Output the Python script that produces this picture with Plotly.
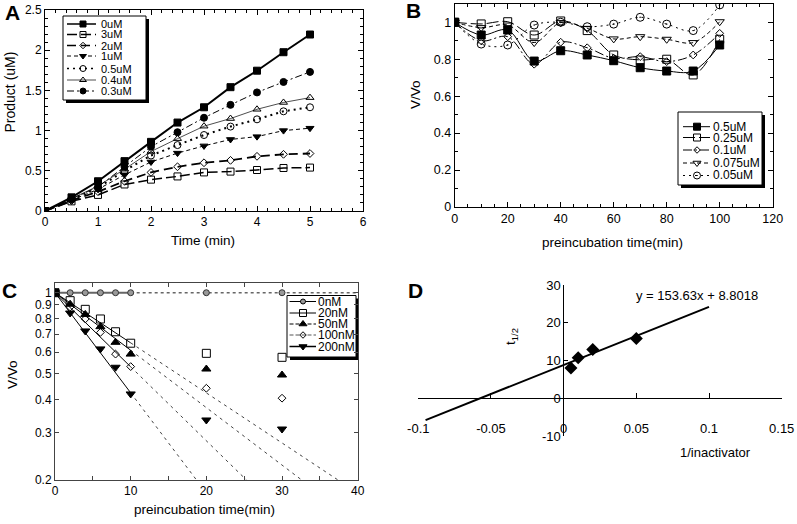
import math
import plotly.graph_objects as go

W, H = 797, 524
FONT = "Arial, Liberation Sans, sans-serif"

# ---------------- Panel A data ----------------
a_time = [0, 0.5, 1, 1.5, 2, 2.5, 3, 3.5, 4, 4.5, 5]
a_names = ["0uM", "3uM", "2uM", "1uM", "0.5uM", "0.4uM", "0.3uM"]
a_0uM = [0, 0.17, 0.37, 0.62, 0.86, 1.10, 1.29, 1.54, 1.745, 1.975, 2.195]
a_3uM = [0, 0.12, 0.20, 0.33, 0.39, 0.43, 0.48, 0.49, 0.51, 0.535, 0.54]
a_2uM = [0, 0.13, 0.24, 0.37, 0.48, 0.55, 0.60, 0.63, 0.68, 0.705, 0.715]
a_1uM = [0, 0.14, 0.27, 0.45, 0.61, 0.72, 0.81, 0.89, 0.925, 1.00, 1.03]
a_05uM = [0, 0.14, 0.29, 0.50, 0.69, 0.82, 0.945, 1.05, 1.14, 1.24, 1.29]
a_04uM = [0, 0.15, 0.31, 0.52, 0.74, 0.90, 1.055, 1.15, 1.265, 1.35, 1.41]
a_03uM = [0, 0.15, 0.30, 0.55, 0.80, 0.98, 1.16, 1.32, 1.475, 1.605, 1.73]
a_xticks = [0, 1, 2, 3, 4, 5, 6]
a_yticks = [0, 0.5, 1, 1.5, 2, 2.5]

# ---------------- Panel B data ----------------
b_time = [0, 10, 20, 30, 40, 50, 60, 70, 80, 90, 100]
b_names = ["0.5uM", "0.25uM", "0.1uM", "0.075uM", "0.05uM"]
b_05uM = [1.0, 0.931, 0.958, 0.79, 0.846, 0.823, 0.792, 0.754, 0.736, 0.736, 0.877]
b_025uM = [1.0, 0.991, 1.003, 0.931, 1.007, 0.955, 0.823, 0.796, 0.80, 0.715, 0.908]
b_01uM = [1.0, 0.90, 0.922, 0.773, 0.892, 0.862, 0.805, 0.814, 0.787, 0.823, 0.94]
b_0075uM = [1.0, 0.971, 0.985, 0.89, 0.998, 0.967, 0.91, 0.922, 0.908, 0.89, 1.003]
b_005uM = [1.0, 0.882, 0.877, 0.985, 1.0, 0.976, 0.99, 1.027, 0.99, 0.955, 1.094]

# ---------------- Panel C data ----------------
c_time = [0, 2, 4, 6, 8, 10, 20, 30]
c_names = ["0nM", "20nM", "50nM", "100nM", "200nM"]
c_0nM = [1, 1, 1, 1, 1, 1, 1, 1]
c_20nM = [1, 0.934, 0.867, 0.798, 0.715, 0.648, 0.594, 0.574]
c_50nM = [1, 0.906, 0.83, 0.747, 0.653, 0.59, 0.519, 0.493]
c_100nM = [1, 0.885, 0.798, 0.711, 0.59, 0.53, 0.44, 0.404]
c_200nM = [1, 0.84, 0.72, 0.617, 0.527, 0.419, 0.335, 0.31]
# fitted lines: value at t=10 and time where extension reaches 0.2
c_fit_t10 = [0.65, 0.61, 0.529, 0.423]
c_fit_end_t = [37.4, 32.6, 25.3, 18.7]
c_fit_end_v = 0.2
c_yticks = [0.2, 0.3, 0.4, 0.5, 0.6, 0.7, 0.8, 0.9, 1]
c_yticktext = ["0.2", "0.3", "0.4", "0.5", "0.6", "0.7", "0.8", "0.9", "1"]

# ---------------- Panel D data ----------------
d_inv = [0.005, 0.01, 0.02, 0.05]
d_thalf = [8.0, 10.7, 12.9, 15.8]
d_fit_x = [-0.095, 0.1]
d_fit_y = [-5.8, 24.2]
d_equation = "y = 153.63x + 8.8018"
d_xticks = [-0.1, -0.05, 0, 0.05, 0.1, 0.15]
d_xticktext = ["-0.1", "-0.05", "0", "0.05", "0.1", "0.15"]
d_yticks = [-10, 0, 10, 20, 30]
d_yticktext = ["-10", "0", "10", "20", "30"]

fig = go.Figure()


def px_x(x):
    return x / W


def px_y(y):
    return 1 - y / H


# ---------- Panel A traces ----------
a_series = [a_0uM, a_3uM, a_2uM, a_1uM, a_05uM, a_04uM, a_03uM]
a_style = [
    dict(dash="solid", width=2, symbol="square", size=7),
    dict(dash="10px,4px", width=1.5, symbol="square-open", size=7),
    dict(dash="9px,5px", width=1.8, symbol="diamond-open", size=6),
    dict(dash="4px,3px", width=1, symbol="triangle-down", size=7),
    dict(dash="2px,4px", width=2, symbol="circle-open", size=7),
    dict(dash="solid", width=0.7, symbol="triangle-up-open", size=7),
    dict(dash="7px,3px,2px,3px", width=1, symbol="circle", size=7),
]
for name, ys, st in zip(a_names, a_series, a_style):
    fig.add_trace(go.Scatter(
        x=a_time, y=ys, name=name, mode="lines+markers", showlegend=False,
        line=dict(color="black", width=st["width"], dash=st["dash"]),
        marker=dict(symbol=st["symbol"], size=st["size"], color="black",
                    line=dict(color="black", width=1)),
        xaxis="x", yaxis="y"))

# ---------- Panel B traces ----------
b_series = [b_05uM, b_025uM, b_01uM, b_0075uM, b_005uM]
b_style = [
    dict(dash="solid", width=1, symbol="square", size=8),
    dict(dash="12px,4px", width=1, symbol="square-open", size=8),
    dict(dash="9px,3px,2px,3px", width=1, symbol="diamond-open", size=6),
    dict(dash="4px,3px", width=1, symbol="triangle-down-open", size=8),
    dict(dash="2px,4px", width=1, symbol="circle-open-dot", size=8),
]
for name, ys, st in zip(b_names, b_series, b_style):
    fig.add_trace(go.Scatter(
        x=b_time, y=ys, name=name, mode="lines+markers", showlegend=False,
        line=dict(color="black", width=st["width"], dash=st["dash"], shape="spline", smoothing=1.0),
        marker=dict(symbol=st["symbol"], size=st["size"], color="black",
                    line=dict(color="black", width=1)),
        xaxis="x2", yaxis="y2"))

# ---------- Panel C traces ----------
for v10, tend in zip(c_fit_t10, c_fit_end_t):
    fig.add_trace(go.Scatter(x=[c_time[0], c_time[5]], y=[c_20nM[0], v10], mode="lines",
                             showlegend=False, line=dict(color="black", width=1),
                             xaxis="x3", yaxis="y3"))
    fig.add_trace(go.Scatter(x=[c_time[5], tend], y=[v10, c_fit_end_v], mode="lines",
                             showlegend=False, line=dict(color="#444", width=1, dash="3px,4px"),
                             xaxis="x3", yaxis="y3"))
fig.add_trace(go.Scatter(x=c_time[:6], y=c_0nM[:6], mode="lines", showlegend=False,
                         line=dict(color="#666", width=2), xaxis="x3", yaxis="y3"))
fig.add_trace(go.Scatter(x=[c_time[5], 40], y=[c_0nM[5], c_0nM[5]], mode="lines", showlegend=False,
                         line=dict(color="#666", width=1.5, dash="3px,3px"), xaxis="x3", yaxis="y3"))
c_series = [c_0nM, c_20nM, c_50nM, c_100nM, c_200nM]
c_style = [
    dict(symbol="circle", size=6, color="#999"),
    dict(symbol="square-open", size=8, color="black"),
    dict(symbol="triangle-up", size=8, color="black"),
    dict(symbol="diamond-open", size=6, color="black"),
    dict(symbol="triangle-down", size=8, color="black"),
]
for name, ys, st in zip(c_names, c_series, c_style):
    fig.add_trace(go.Scatter(
        x=c_time, y=ys, name=name, mode="markers", showlegend=False,
        marker=dict(symbol=st["symbol"], size=st["size"], color=st["color"],
                    line=dict(color="#333" if st["color"] == "#999" else "black", width=1)),
        xaxis="x3", yaxis="y3"))
fig.add_trace(go.Scatter(x=[c_time[0]], y=[c_0nM[0]], mode="markers", showlegend=False,
                         marker=dict(symbol="square", size=8, color="black"),
                         xaxis="x3", yaxis="y3"))

# ---------- Panel D traces ----------
fig.add_trace(go.Scatter(x=d_fit_x, y=d_fit_y, mode="lines", showlegend=False,
                         line=dict(color="black", width=2), xaxis="x4", yaxis="y4"))
fig.add_trace(go.Scatter(x=d_inv, y=d_thalf, mode="markers", showlegend=False,
                         marker=dict(symbol="diamond", size=10, color="black"),
                         xaxis="x4", yaxis="y4"))

# ---------- custom legends (pixel overlay) ----------
shapes = []
ann = []


def add_text(x, y, text, size, angle=0, xanchor="center"):
    ann.append(dict(x=px_x(x), y=px_y(y), xref="paper", yref="paper", text=text,
                    showarrow=False, textangle=angle, xanchor=xanchor, yanchor="middle",
                    borderpad=0, font=dict(family=FONT, size=size, color="black")))


def add_legend(box, rows, line_x, mark_x, text_x, names, styles, fsize, line_colors=None):
    x0, y0, x1, y1 = box
    shapes.append(dict(type="rect", xref="paper", yref="paper", layer="below",
                       x0=px_x(x0 + 3), x1=px_x(x1 + 3), y0=px_y(y0 + 3), y1=px_y(y1 + 3),
                       fillcolor="black", line=dict(width=0)))
    shapes.append(dict(type="rect", xref="paper", yref="paper", layer="below",
                       x0=px_x(x0), x1=px_x(x1), y0=px_y(y0), y1=px_y(y1),
                       fillcolor="white", line=dict(color="black", width=1)))
    for i, (ry, nm, st) in enumerate(zip(rows, names, styles)):
        lc = line_colors[i] if line_colors else "black"
        fig.add_trace(go.Scatter(x=list(line_x), y=[ry, ry], mode="lines", showlegend=False,
                                 line=dict(color=lc, width=min(st.get("width", 1), 1.5),
                                           dash=st.get("dash", "solid")),
                                 xaxis="x5", yaxis="y5", hoverinfo="skip"))
        fig.add_trace(go.Scatter(x=[mark_x], y=[ry], mode="markers", showlegend=False,
                                 marker=dict(symbol=st["symbol"], size=st["size"] - 1,
                                             color=st.get("color", "black"),
                                             line=dict(color="black", width=1)),
                                 xaxis="x5", yaxis="y5", hoverinfo="skip"))
        add_text(text_x, ry, nm, fsize, xanchor="left")


add_legend((63, 16, 146, 100), [24, 34.5, 45.5, 56, 68.5, 80, 91], (67, 96), 83, 100,
           a_names, a_style, 11)
add_legend((678, 112, 762, 185), [126.7, 137.5, 150, 163, 175.5], (683, 710), 697, 712,
           b_names, b_style, 12)
c_leg_style = [dict(c_style[0], dash="solid", width=1), dict(c_style[1], dash="solid", width=1),
               dict(c_style[2], dash="4px,2px", width=1), dict(c_style[3], dash="4px,2px", width=1),
               dict(c_style[4], dash="solid", width=1.5)]
add_legend((287, 295.5, 356, 357), [301.5, 313, 324, 335, 346.5], (289.5, 316), 303, 317,
           c_names, c_leg_style, 12,
           line_colors=["black", "black", "black", "#555", "black"])

# ---------- axes ----------
tickfont = dict(family=FONT, size=12, color="black")
box_axis = dict(showline=True, linecolor="black", linewidth=1, mirror="allticks",
                ticks="inside", ticklen=5, tickcolor="black", showgrid=False,
                zeroline=False, tickfont=tickfont, fixedrange=True)

layout = dict(
    width=W, height=H, margin=dict(l=0, r=0, t=0, b=0, autoexpand=False),
    paper_bgcolor="white", plot_bgcolor="rgba(0,0,0,0)",
    showlegend=False,
    font=dict(family=FONT, color="black"),
    xaxis=dict(box_axis, domain=[px_x(45), px_x(363)], range=[0, 6], anchor="y",
               tickvals=a_xticks, minor=dict(dtick=0.2, ticks="inside", ticklen=3, tickcolor="black")),
    yaxis=dict(box_axis, domain=[px_y(211), px_y(10)], range=[0, 2.5], anchor="x",
               tickvals=a_yticks, minor=dict(dtick=0.1, ticks="inside", ticklen=3, tickcolor="black")),
    xaxis2=dict(box_axis, domain=[px_x(454.7), px_x(772.7)], range=[0, 120], anchor="y2",
                dtick=20, tickfont=dict(tickfont, size=12.5),
                minor=dict(dtick=5, ticks="inside", ticklen=3, tickcolor="black")),
    yaxis2=dict(box_axis, domain=[px_y(207), px_y(3.8)], range=[0, 1.1], anchor="x2",
                dtick=0.2, tickfont=dict(tickfont, size=12.5),
                minor=dict(dtick=0.1, ticks="inside", ticklen=3, tickcolor="black")),
    xaxis3=dict(box_axis, domain=[px_x(55), px_x(357.7)], range=[0, 40], anchor="y3",
                dtick=10, linecolor="#444", tickcolor="#444", ticklen=4,
                minor=dict(dtick=5, ticks="inside", ticklen=4, tickcolor="#444")),
    yaxis3=dict(box_axis, domain=[px_y(480), px_y(282.7)], type="log",
                range=[math.log10(0.2), math.log10(1.09)], anchor="x3",
                tickvals=c_yticks, ticktext=c_yticktext, linecolor="#444", tickcolor="#444", ticklen=4),
    xaxis4=dict(domain=[px_x(418.3), px_x(781.7)], range=[-0.1, 0.15], anchor="free",
                position=px_y(398.3), showline=True, linecolor="black", linewidth=1,
                ticks="inside", ticklen=5, tickcolor="black",
                tickvals=d_xticks, ticktext=d_xticktext, showgrid=False,
                zeroline=False, tickfont=dict(tickfont, size=13), ticklabelstandoff=18,
                fixedrange=True),
    yaxis4=dict(domain=[px_y(436), px_y(285)], range=[-10, 30], anchor="free",
                position=px_x(563.3), showline=True, linecolor="black", linewidth=1,
                ticks="inside", ticklen=4, tickcolor="black",
                tickvals=d_yticks, ticktext=d_yticktext, showgrid=False,
                zeroline=False, tickfont=dict(tickfont, size=13), fixedrange=True),
    xaxis5=dict(domain=[0, 1], range=[0, W], anchor="y5", visible=False, fixedrange=True),
    yaxis5=dict(domain=[0, 1], range=[H, 0], anchor="x5", visible=False, fixedrange=True),
    shapes=shapes,
)

# panel letters
for lx, ly, lt in [(12, 12, "A"), (414, 11, "B"), (9.5, 290.5, "C"), (415, 290.5, "D")]:
    add_text(lx, ly, "<b>" + lt + "</b>", 21)
# axis titles
add_text(9.5, 92, "Product (uM)", 14, angle=-90)
add_text(203, 241, "Time (min)", 13.5)
add_text(415, 95, "V/Vo", 13.5, angle=-90)
add_text(612, 242, "preincubation time(min)", 13.5)
add_text(12, 375, "V/Vo", 13.5, angle=-90)
add_text(204, 509, "preincubation time(min)", 13.5)
add_text(511, 337, "t<sub>1/2</sub>", 13.5, angle=-90)
add_text(715, 452, "1/inactivator", 13)
add_text(697, 295, d_equation, 13)

layout["annotations"] = ann
fig.update_layout(**layout)
fig.write_html("out.html", config={"displayModeBar": False},
               post_script="document.body.style.margin='0px';document.body.style.padding='0px';")
